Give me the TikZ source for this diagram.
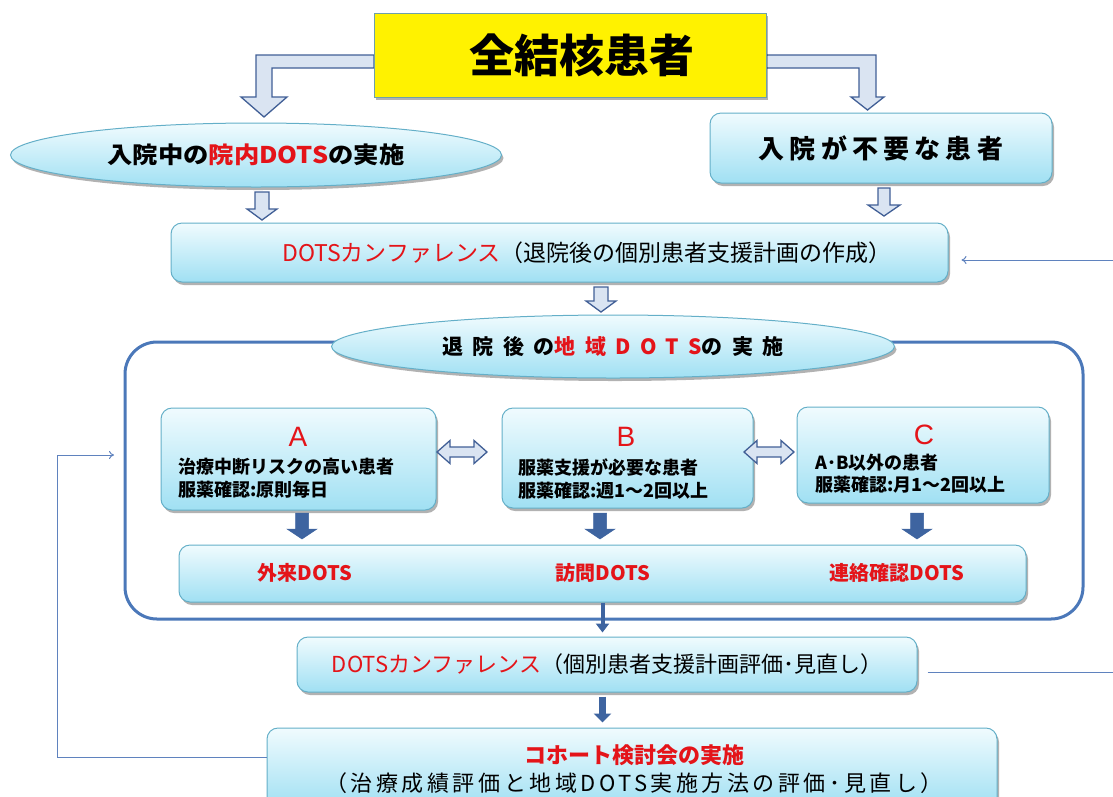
\documentclass[tikz,border=0pt]{standalone}
\usepackage{fontspec}
\setmainfont{Noto Sans CJK JP}
\newfontfamily\latf{Liberation Sans}
\newfontfamily\jpwide{Noto Sans CJK JP}[FakeStretch=1.1]
\newfontfamily\jpspA{Noto Sans CJK JP}[LetterSpace=45]
\newfontfamily\jpspB{Noto Sans CJK JP}[LetterSpace=20]
\newfontfamily\jpspC{Noto Sans CJK JP}[LetterSpace=16]
\usetikzlibrary{shapes.geometric,shadows,arrows.meta,calc}

\definecolor{btop}{RGB}{240,251,254}
\definecolor{bbot}{RGB}{160,224,243}
\definecolor{bline}{RGB}{100,175,200}
\definecolor{fblue}{RGB}{75,120,185}
\definecolor{afill}{RGB}{218,228,242}
\definecolor{aline}{RGB}{65,95,150}
\definecolor{dblue}{RGB}{62,100,160}
\definecolor{tline}{RGB}{95,130,190}
\definecolor{jred}{RGB}{228,20,25}
\definecolor{tborder}{RGB}{110,160,170}

% x, ytop, ybot, shaft half, head half, head length, style
\newcommand\blockdown[7]{\draw[#7] ({#1-#4},#2) -- ({#1+#4},#2) -- ({#1+#4},{#3-#6}) -- ({#1+#5},{#3-#6}) -- (#1,#3) -- ({#1-#5},{#3-#6}) -- ({#1-#4},{#3-#6}) -- cycle;}
% x1, x2, y, shaft half, head half, head length, style
\newcommand\blockdouble[7]{\draw[#7] (#1,#3) -- ({#1+#6},{#3-#5}) -- ({#1+#6},{#3-#4}) -- ({#2-#6},{#3-#4}) -- ({#2-#6},{#3-#5}) -- (#2,#3) -- ({#2-#6},{#3+#5}) -- ({#2-#6},{#3+#4}) -- ({#1+#6},{#3+#4}) -- ({#1+#6},{#3+#5}) -- cycle;}

\tikzset{
  shadowed/.style={drop shadow={shadow xshift=2pt,shadow yshift=-3pt,opacity=0.3,fill=black}},
  lbox/.style={draw=bline,line width=1pt,rounded corners=11pt,top color=btop,bottom color=bbot,shadowed,inner sep=0pt},
  lell/.style={ellipse,draw=bline,line width=1pt,top color=btop,bottom color=bbot,shadowed,inner sep=0pt},
  hollow/.style={fill=afill,draw=aline,line width=1.3pt,line join=miter},
  darkfill/.style={fill=dblue,draw=dblue,line width=0.5pt},
  thinl/.style={draw=tline,line width=1pt},
  dline/.style={draw=dblue},
  txt/.style={inner sep=0pt},
}

\begin{document}
\begin{tikzpicture}[x=1pt,y=-1pt]
\useasboundingbox (0,0) rectangle (1113,796);

% L-shaped hollow arrows from the title
\draw[hollow] (374,55) -- (256,55) -- (256,97) -- (241,97) -- (264,117) -- (287,97) -- (272,97) -- (272,68) -- (374,68) -- cycle;
\draw[hollow] (766,55) -- (876,55) -- (876,97) -- (884,97) -- (867.5,110) -- (851,97) -- (859,97) -- (859,68) -- (766,68) -- cycle;

% title
\node[draw=tborder,line width=1pt,fill=yellow,shadowed,minimum width=392pt,minimum height=84pt,inner sep=0pt] (title) at (570,55) {};
\node[txt,font=\bfseries\fontsize{45}{50}\selectfont] (titletxt) at (582,55) {全結核患者};

% second row
\node[lell,minimum width=491pt,minimum height=64pt,font=\jpwide\bfseries\fontsize{23}{26}\selectfont] (ell1) at (256,155) {入院中の\textcolor{jred}{院内DOTS}の実施};
\node[lbox,minimum width=342pt,minimum height=70pt,font=\jpspB\bfseries\fontsize{26}{30}\selectfont] (need) at (881,148) {入院が不要な患者};

\blockdown{262}{192}{220}{7}{15}{11}{hollow}
\blockdown{884}{188}{216}{6}{16}{11}{hollow}

% conference 1
\node[lbox,minimum width=777pt,minimum height=59pt] (conf1) at (559.5,252.5) {};
\node[txt,font=\fontsize{23}{26}\selectfont] (conf1txt) at (587,253) {\textcolor{jred}{DOTSカンファレンス}（退院後の個別患者支援計画の作成）};

\blockdown{601}{287}{312}{7}{15}{11}{hollow}

% frame
\node[draw=fblue,line width=3pt,rounded corners=32pt,minimum width=958pt,minimum height=277pt,inner sep=0pt] (frame) at (604,480.5) {};
\node[lell,minimum width=563pt,minimum height=63pt,font=\jpspA\bfseries\fontsize{21}{24}\selectfont] (ell2) at (613,346.5) {退院後の\textcolor{jred}{地域DOTS}の実施};

% A B C
\node[lbox,minimum width=275pt,minimum height=102pt] (boxA) at (298.5,459) {};
\node[lbox,minimum width=251pt,minimum height=100pt] (boxB) at (627.5,458) {};
\node[lbox,minimum width=252pt,minimum height=96pt] (boxC) at (923,455) {};

\node[txt,text=jred,font=\latf\fontsize{28}{30}\selectfont] (labA) at (298,437) {A};
\node[txt,text=jred,font=\latf\fontsize{28}{30}\selectfont] (labB) at (626,437) {B};
\node[txt,text=jred,font=\latf\fontsize{28}{30}\selectfont] (labC) at (924,435) {C};

\node[txt,anchor=west,align=left,font=\bfseries\fontsize{18}{23}\selectfont] (txtA) at (178,478.5) {治療中断リスクの高い患者\\服薬確認:原則毎日};
\node[txt,anchor=west,align=left,font=\bfseries\fontsize{18}{23}\selectfont] (txtB) at (518,478.5) {服薬支援が必要な患者\\服薬確認:週1～2回以上};
\node[txt,anchor=west,align=left,font=\bfseries\fontsize{18}{22}\selectfont] (txtC) at (815,474) {A･B以外の患者\\服薬確認:月1～2回以上};

\blockdouble{437}{487}{452}{5}{11.5}{13}{hollow}
\blockdouble{744}{794}{452}{5}{11.5}{13}{hollow}

\blockdown{302}{513}{539}{6.5}{15}{10}{darkfill}
\blockdown{600}{513}{539}{6.5}{15}{10}{darkfill}
\blockdown{917}{513}{539}{6.5}{15}{10}{darkfill}

% DOTS types
\node[lbox,minimum width=847pt,minimum height=57pt] (bottom) at (602.5,573.5) {};
\node[txt,text=jred,font=\bfseries\fontsize{20}{24}\selectfont] (gairai) at (305,573) {外来DOTS};
\node[txt,text=jred,font=\bfseries\fontsize{20}{24}\selectfont] (houmon) at (603,573) {訪問DOTS};
\node[txt,text=jred,font=\bfseries\fontsize{20}{24}\selectfont] (renraku) at (897,573) {連絡確認DOTS};

% conference 2 and cohort
\node[lbox,minimum width=620pt,minimum height=55pt,font=\fontsize{22}{26}\selectfont] (conf2) at (607,664.5) {\textcolor{jred}{DOTSカンファレンス}（個別患者支援計画評価･見直し）};
\node[lbox,minimum width=730pt,minimum height=80pt] (cohort) at (632,768) {};
\node[txt,align=center,font=\fontsize{22}{28}\selectfont] (cohorttxt) at (634,769) {{\color{jred}\bfseries コホート検討会の実施}\\{\jpspC （治療成績評価と地域DOTS実施方法の評価･見直し）}};

% vertical dark arrows
\draw[dline,line width=4pt,-{Triangle[width=13pt,length=9pt]},shorten >=4pt] (bottom.south) -- (bottom.south |- conf2.north);
\draw[dline,line width=7pt,-{Triangle[width=17pt,length=9pt]},shorten <=4pt,shorten >=5pt] (bottom.south |- conf2.south) -- (bottom.south |- cohort.north);

% feedback lines
\coordinate (loopA) at (57,757);
\coordinate (loopB) at (57,455);
\coordinate (loopE) at (114,455);
\draw[thinl,-{To[length=5pt,width=8pt]}] (cohort.west |- loopA) -- (loopA) -- (loopB) -- (loopE);
\coordinate (rEnd) at (1113,672);
\draw[thinl] ($(conf2.east |- rEnd)+(10,0)$) -- (rEnd);
\coordinate (rStart) at (1113,260);
\draw[thinl,-{To[length=5pt,width=8pt]}] (rStart) -- ($(conf1.east |- rStart)+(13,0)$);
\end{tikzpicture}
\end{document}
